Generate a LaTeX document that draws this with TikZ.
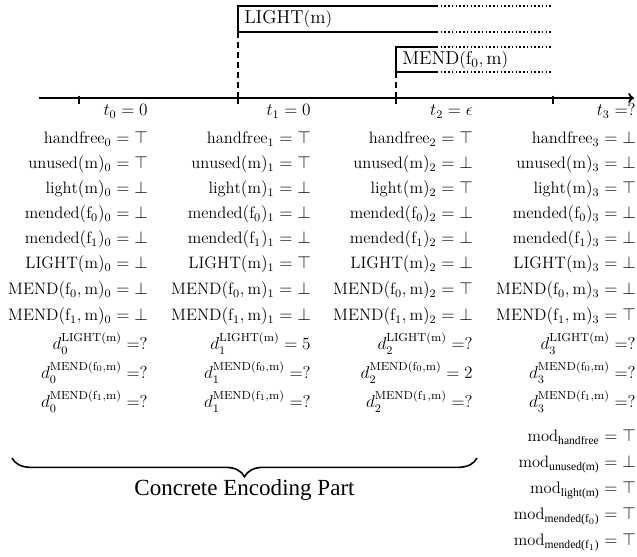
\documentclass[tikz,border=0pt]{standalone}
\usepackage{amsmath}
\usepackage{fontspec}
\newfontfamily\tms{Liberation Serif}
\usetikzlibrary{arrows.meta,decorations.pathreplacing}
\newcommand{\rmx}[1]{\mathrm{#1}}
\begin{document}
\begin{tikzpicture}[x=0.6944pt,y=-0.6944pt,
  axisline/.style={line width=1.3pt,-{To[length=4pt,width=7pt]}},
  tickline/.style={line width=1.1pt},
  guide/.style={line width=1.1pt,dash pattern=on 4pt off 3pt},
  barline/.style={line width=1.1pt},
  dotline/.style={line width=1.1pt,dash pattern=on 1pt off 1.6pt},
  val/.style={anchor=base east,inner sep=0pt,font=\fontsize{11.5}{14}\selectfont},
  lbl/.style={anchor=west,inner sep=0pt,font=\fontsize{13}{15}\selectfont}]
\useasboundingbox (0,0) rectangle (637,557);

% time axis
\coordinate (ax0) at (39,98);
\coordinate (ax1) at (634,98);
\draw[axisline] (ax0) -- (ax1);
\foreach \k/\xt in {0/79,1/238,2/396,3/553}{
  \coordinate (tk\k a) at (\xt,96);
  \coordinate (tk\k b) at (\xt,104);
  \draw[tickline] (tk\k a) -- (tk\k b);
}

% LIGHT(m) interval
\coordinate (la) at (238,6);
\coordinate (lb) at (238,32);
\coordinate (lc) at (437,6);
\coordinate (ld) at (437,32);
\coordinate (le) at (553,6);
\coordinate (lf) at (553,32);
\coordinate (lg) at (238,98);
\draw[barline] (lc) -- (la) -- (lb) -- (ld);
\draw[dotline] (lc) -- (le);
\draw[dotline] (ld) -- (lf);
\draw[guide] (lb) -- (lg);
\node[lbl] (lightlbl) at (244,19.5) {$\rmx{LIGHT(m)}$};

% MEND(f0,m) interval
\coordinate (ma) at (396,47);
\coordinate (mb) at (396,72);
\coordinate (mc) at (437,47);
\coordinate (md) at (437,72);
\coordinate (me) at (553,47);
\coordinate (mf) at (553,72);
\coordinate (mg) at (396,98);
\draw[barline] (mc) -- (ma) -- (mb) -- (md);
\draw[dotline] (mc) -- (me);
\draw[dotline] (md) -- (mf);
\draw[guide] (mb) -- (mg);
\node[lbl] (mendlbl) at (402,60) {$\rmx{MEND}(\rmx{f}_0,\rmx{m})$};

% state variables at each time step
\foreach \k/\xr/\tv/\va/\vb/\vc/\vd/\ve/\vf/\vg/\vh/\dl/\dm/\dn in {
  0/148/0/\top/\top/\bot/\bot/\bot/\bot/\bot/\bot/?/?/?,
  1/311/0/\top/\top/\bot/\bot/\bot/\top/\bot/\bot/5/?/?,
  2/473/\epsilon/\top/\bot/\top/\bot/\bot/\bot/\top/\bot/?/2/?,
  3/636/?/\bot/\bot/\top/\bot/\bot/\bot/\bot/\top/?/?/?}{
  \node[val] (t\k)  at (\xr,116) {$t_{\k}=\tv$};
  \node[val] (hf\k) at (\xr,144) {$\rmx{handfree}_{\k}=\va$};
  \node[val] (un\k) at (\xr,169) {$\rmx{unused}(\rmx{m})_{\k}=\vb$};
  \node[val] (li\k) at (\xr,194) {$\rmx{light}(\rmx{m})_{\k}=\vc$};
  \node[val] (ma\k) at (\xr,219) {$\rmx{mended}(\rmx{f}_0)_{\k}=\vd$};
  \node[val] (mb\k) at (\xr,244) {$\rmx{mended}(\rmx{f}_1)_{\k}=\ve$};
  \node[val] (LI\k) at (\xr,269) {$\rmx{LIGHT}(\rmx{m})_{\k}=\vf$};
  \node[val] (MA\k) at (\xr,295) {$\rmx{MEND}(\rmx{f}_0,\rmx{m})_{\k}=\vg$};
  \node[val] (MB\k) at (\xr,321) {$\rmx{MEND}(\rmx{f}_1,\rmx{m})_{\k}=\vh$};
  \node[val] (dl\k) at (\xr,350) {$d_{\k}^{\rmx{LIGHT(m)}}=\dl$};
  \node[val] (dm\k) at (\xr,379) {$d_{\k}^{\rmx{MEND}(\rmx{f}_0,\rmx{m})}=\dm$};
  \node[val] (dn\k) at (\xr,408) {$d_{\k}^{\rmx{MEND}(\rmx{f}_1,\rmx{m})}=\dn$};
}

% modification flags
\node[val] (mod1) at (636,442) {$\rmx{mod}_{\text{\tms handfree}}=\top$};
\node[val] (mod2) at (636,468) {$\rmx{mod}_{\text{\tms unused(m)}}=\bot$};
\node[val] (mod3) at (636,494) {$\rmx{mod}_{\text{\tms light(m)}}=\top$};
\node[val] (mod4) at (636,520) {$\rmx{mod}_{\text{\tms mended(f$_0$)}}=\top$};
\node[val] (mod5) at (636,546) {$\rmx{mod}_{\text{\tms mended(f$_1$)}}=\top$};

% concrete encoding part
\coordinate (br0) at (12,458);
\coordinate (br1) at (477,458);
\draw[line width=1.1pt,decorate,decoration={brace,mirror,amplitude=13pt}] (br0) -- (br1);
\node[inner sep=0pt,font=\tms\fontsize{16}{18}\selectfont] (cep) at (244.5,490) {Concrete Encoding Part};
\end{tikzpicture}
\end{document}
